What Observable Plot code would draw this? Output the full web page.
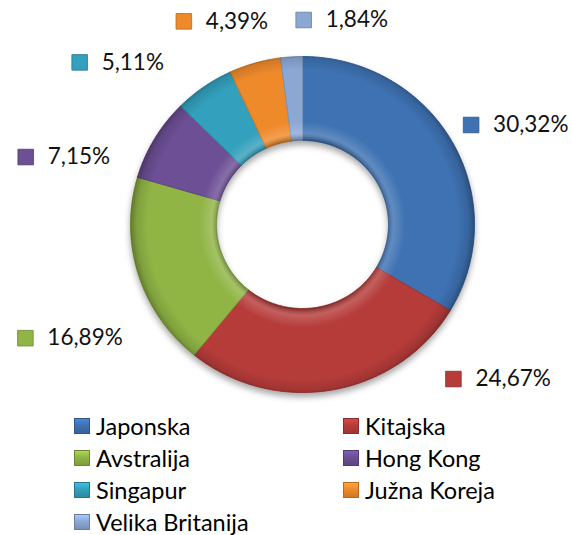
<!DOCTYPE html>
<html>
<head>
<meta charset="utf-8">
<script src="https://cdn.jsdelivr.net/npm/d3@7"></script>
<script src="https://cdn.jsdelivr.net/npm/@observablehq/plot@0.6"></script>
<style>
  body { margin: 0; background: #fff; font-family: Lato, "Open Sans", sans-serif; }
  #chart { width: 572px; height: 535px; position: relative; overflow: hidden; }
  .legend { display: grid; grid-template-columns: 269px 220px; margin-left: 74px; }
  .item { height: 32px; display: flex; align-items: center; font-size: 23.5px; color: #000; white-space: nowrap; }
  .sw { width: 16px; height: 16px; margin-right: 6px; box-sizing: border-box; flex: none; }
</style>
</head>
<body>
<div id="chart"></div>
<script>
// ---- data ----
const countries = ["Japonska", "Kitajska", "Avstralija", "Hong Kong", "Singapur", "Južna Koreja", "Velika Britanija"];
const shares = [30.32, 24.67, 16.89, 7.15, 5.11, 4.39, 1.84];
const shareLabels = ["30,32%", "24,67%", "16,89%", "7,15%", "5,11%", "4,39%", "1,84%"];
const sliceColors = ["#3e72b3", "#b63c3a", "#90b545", "#6c4f95", "#33a0bd", "#ef8a2b", "#8ba8d5"];
// manual label nudges (like Excel's manualLayout), in radius units, from the default outside position
const labelNudgeX = [-0.15, 0.65, -0.37, -0.49, -0.55, -0.33, 0.09];
const labelNudgeY = [-0.05, 0.36, -0.29, -0.26, -0.10, -0.04, -0.08];

const colorOf = new Map(countries.map((c, i) => [c, sliceColors[i]]));
const innerR = 0.5, outerR = 1, labelR = 1.3;

const pie = d3.pie().sort(null).startAngle(0).endAngle(2 * Math.PI)(shares);

const ringPts = [];
pie.forEach((p, i) => {
  const n = Math.max(4, Math.ceil((p.endAngle - p.startAngle) / (Math.PI / 360)));
  const angs = d3.range(n + 1).map(k => p.startAngle + (p.endAngle - p.startAngle) * k / n);
  angs.forEach(a => ringPts.push({country: countries[i], x: outerR * Math.sin(a), y: outerR * Math.cos(a)}));
  angs.slice().reverse().forEach(a => ringPts.push({country: countries[i], x: innerR * Math.sin(a), y: innerR * Math.cos(a)}));
  ringPts.push({country: countries[i], x: outerR * Math.sin(angs[0]), y: outerR * Math.cos(angs[0])});
});

const labels = pie.map((p, i) => {
  const m = (p.startAngle + p.endAngle) / 2;
  return {
    country: countries[i],
    text: shareLabels[i],
    x: labelR * Math.sin(m) + labelNudgeX[i],
    y: labelR * Math.cos(m) + labelNudgeY[i]
  };
});

const plot = Plot.plot({
  width: 572,
  height: 410,
  marginLeft: 130,
  marginRight: 98,
  marginTop: 56,
  marginBottom: 18,
  x: {domain: [-1, 1], axis: null},
  y: {domain: [-1, 1], axis: null},
  color: {type: "identity"},
  style: {fontFamily: "Lato, sans-serif", background: "white", overflow: "visible"},
  marks: [
    Plot.line(ringPts, {
      x: "x", y: "y", z: "country",
      fill: d => colorOf.get(d.country),
      stroke: d => d3.color(colorOf.get(d.country)).darker(0.4).formatHex(),
      strokeWidth: 1,
      strokeLinejoin: "round",
      className: "ring"
    }),
    Plot.line(ringPts, {
      x: "x", y: "y", z: "country",
      fill: "black", stroke: "none",
      className: "bevel"
    }),
    Plot.dot(labels, {
      x: "x", y: "y", symbol: "square", r: 8.8,
      fill: d => colorOf.get(d.country),
      stroke: d => d3.color(colorOf.get(d.country)).darker(0.8).formatHex(),
      strokeWidth: 0.8
    }),
    Plot.text(labels, {
      x: "x", y: "y", text: "text", textAnchor: "start", dx: 22,
      fill: "#111", fontSize: 22.5
    })
  ]
});

// bevel gradient overlay
const svg = d3.select(plot);
const cx = plot.scale("x").apply(0), cy = plot.scale("y").apply(0);
const rpx = plot.scale("x").apply(1) - cx;
const defs = svg.insert("defs", ":first-child");
const g = defs.append("radialGradient").attr("id", "bevelGrad")
  .attr("gradientUnits", "userSpaceOnUse").attr("cx", cx).attr("cy", cy).attr("r", rpx);
[[0.49, "#000", 0.30], [0.53, "#fff", 0.18], [0.60, "#fff", 0.0], [0.90, "#000", 0.0], [0.965, "#000", 0.12], [1.0, "#000", 0.32]]
  .forEach(([o, c, a]) => g.append("stop").attr("offset", o).attr("stop-color", c).attr("stop-opacity", a));
svg.selectAll(".bevel path").attr("fill", "url(#bevelGrad)");
svg.select("g.ring").style("filter", "drop-shadow(0px 4px 3px rgba(0,0,0,0.35))");

const chart = document.getElementById("chart");
chart.appendChild(plot);

// legend
const legend = document.createElement("div");
legend.className = "legend";
countries.forEach((c, i) => {
  const it = document.createElement("div");
  it.className = "item";
  const sw = document.createElement("span");
  sw.className = "sw";
  const col = d3.color(sliceColors[i]);
  sw.style.background = `linear-gradient(180deg, ${col.brighter(0.5)} 0%, ${col} 45%, ${col.darker(0.4)} 100%)`;
  sw.style.border = `1px solid ${col.darker(0.8)}`;
  const t = document.createElement("span");
  t.textContent = c;
  it.appendChild(sw); it.appendChild(t);
  legend.appendChild(it);
});
chart.appendChild(legend);
</script>
</body>
</html>
